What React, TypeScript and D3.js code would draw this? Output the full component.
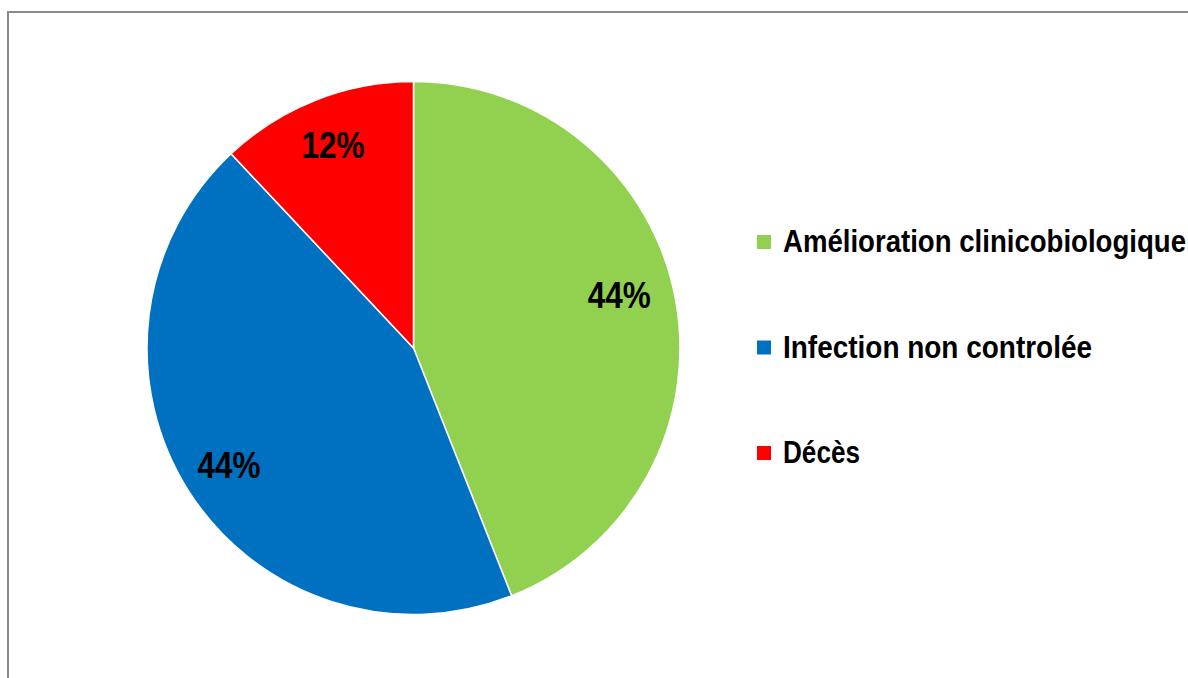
import React from "react";
import * as d3 from "d3";

const categories = ["Amélioration clinicobiologique", "Infection non controlée", "Décès"];
const values = [44, 44, 12];
const labels = ["44%", "44%", "12%"];
const colors = ["#92D050", "#0070C0", "#FF0000"];

const legendWidths = [403, 309, 77];
const labelOffsets: [number, number][] = [[-9, -12], [0, 0], [0, 0]];

const W = 1188;
const H = 678;
const FONT = "'Liberation Sans Narrow', 'Arial Narrow', 'Liberation Sans', Arial, sans-serif";

export default function App() {
  React.useEffect(() => {
    document.body.style.margin = "0";
  }, []);
  const cx = 413.5;
  const cy = 348;
  const R = 266.5;
  const pie = d3.pie<number>().sort(null).value((d) => d);
  const arcs = pie(values);
  const arc = d3.arc<d3.PieArcDatum<number>>().innerRadius(0).outerRadius(R);
  const labelArc = d3.arc<d3.PieArcDatum<number>>().innerRadius(R * 0.82).outerRadius(R * 0.82);
  const legendY = d3.scalePoint<string>().domain(categories).range([252, 463]);

  return (
    <svg width={W} height={H} style={{ display: "block", position: "absolute", left: 0, top: 0 }}>
      <rect x={0} y={0} width={W} height={H} fill="#ffffff" />
      <rect x={8} y={12} width={W + 20} height={H + 20} fill="#ffffff" stroke="#8a8a8a" strokeWidth={2} />
      <g transform={`translate(${cx},${cy})`}>
        {arcs.map((a, i) => (
          <path key={i} d={arc(a) || ""} fill={colors[i]} stroke="#ffffff" strokeWidth={1.5} />
        ))}
        {arcs.map((a, i) => {
          const [x, y] = labelArc.centroid(a);
          return (
            <text
              key={i}
              x={x + labelOffsets[i][0] - 31.5}
              y={y + labelOffsets[i][1]}
              dy="0.36em"
              fontFamily={FONT}
              fontWeight="bold"
              fontSize={36}
              fill="#000"
              textLength={63}
              lengthAdjust="spacingAndGlyphs"
            >
              {labels[i]}
            </text>
          );
        })}
      </g>
      {categories.map((c, i) => {
        const y = legendY(c) as number;
        return (
          <g key={c}>
            <rect x={757} y={y - 17} width={14} height={14} fill={colors[i]} />
            <text
              x={783}
              y={y}
              fontFamily={FONT}
              fontWeight="bold"
              fontSize={31}
              fill="#000"
              textLength={legendWidths[i]}
              lengthAdjust="spacingAndGlyphs"
            >
              {c}
            </text>
          </g>
        );
      })}
    </svg>
  );
}
